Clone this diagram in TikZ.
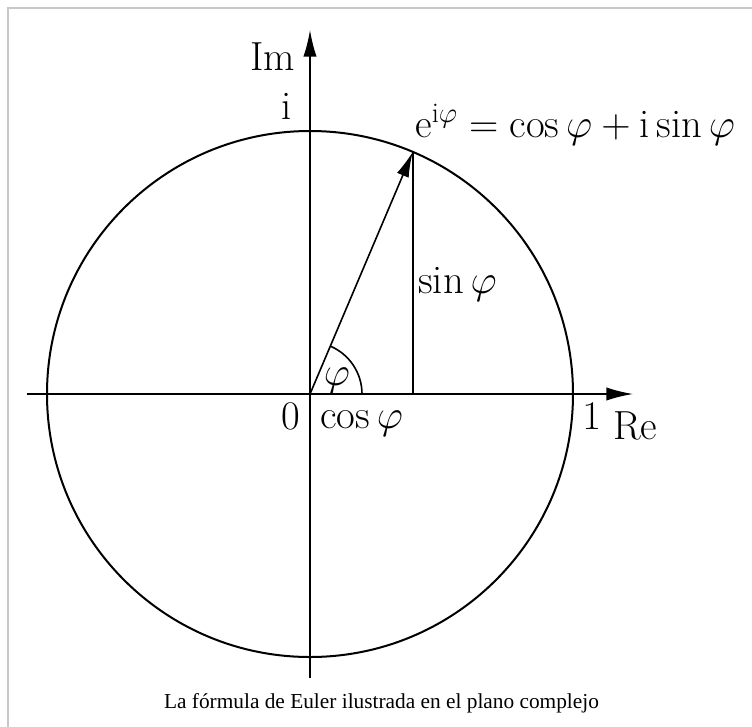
\RequirePackage{fix-cm}
\documentclass[tikz,border=0pt]{standalone}
\usepackage{fontspec}
\newfontfamily\capfont{Liberation Serif}
\usepackage{tikz}
\usetikzlibrary{
  arrows.meta,
  calc
}
\definecolor{inkblack}{RGB}{0,0,0}
\definecolor{framegray}{RGB}{200,200,200}
\tikzset{
  axis/.style={-{Latex[length=20pt,width=10pt]},line width=1.2pt,draw=inkblack},
  vecflow/.style={-{Latex[length=19pt,width=9.5pt]},line width=1.2pt,draw=inkblack},
  unit/.style={line width=1.5pt,draw=inkblack},
  leg/.style={line width=1.2pt,draw=inkblack},
  lab/.style={inner sep=0pt,font=\fontsize{30.5}{36}\selectfont},
  caplab/.style={inner sep=0pt,font=\capfont\fontsize{16}{19}\selectfont}
}

\begin{document}
\begin{tikzpicture}[x=0.75pt,y=0.75pt]
  \useasboundingbox (-310,-332) rectangle (442,394);
  % thumbnail frame
  \draw[framegray,line width=1.2pt] (-302,-340) -- (-302,386) -- (450,386);
  % unit circle and axes
  \coordinate (O) at (0,0);
  \coordinate (xl) at (-283,0);
  \coordinate (xr) at (323,0);
  \coordinate (yb) at (0,-284);
  \coordinate (yt) at (0,364);
  \coordinate (P) at (67:263);
  \coordinate (Q) at (P |- O);
  \draw[unit] (O) circle[radius=263];
  \draw[axis] (xl) -- (xr);
  \draw[axis] (yb) -- (yt);
  \draw[leg] (Q) -- (P);
  \draw[vecflow] (O) -- (P);
  \draw[leg] (52,0) arc[start angle=0,end angle=67,radius=52];
  % labels
  \node[lab,anchor=base east] (im) at (-15,324) {$\mathrm{Im}$};
  \node[lab,anchor=base west] (re) at (303,-45) {$\mathrm{Re}$};
  \node[lab,anchor=base east] (unitim) at (-18,275) {$\mathrm{i}$};
  \node[lab,anchor=base east] (zero) at (-10,-35) {$0$};
  \node[lab,anchor=base west] (one) at (272,-35) {$1$};
  \node[lab,anchor=base west] (euler) at (105,257)
    {$\mathrm{e}^{\mathrm{i}\varphi}=\cos\varphi+\mathrm{i}\sin\varphi$};
  \node[lab,anchor=base west] (sine) at (108,101) {$\sin\varphi$};
  \node[lab,anchor=base west] (cosine) at (10,-34) {$\cos\varphi$};
  \node[lab] (angle) at (27,13) {$\varphi$};
  \node[caplab,anchor=base] (caption) at (71.5,-314)
    {La fórmula de Euler ilustrada en el plano complejo};
\end{tikzpicture}
\end{document}
